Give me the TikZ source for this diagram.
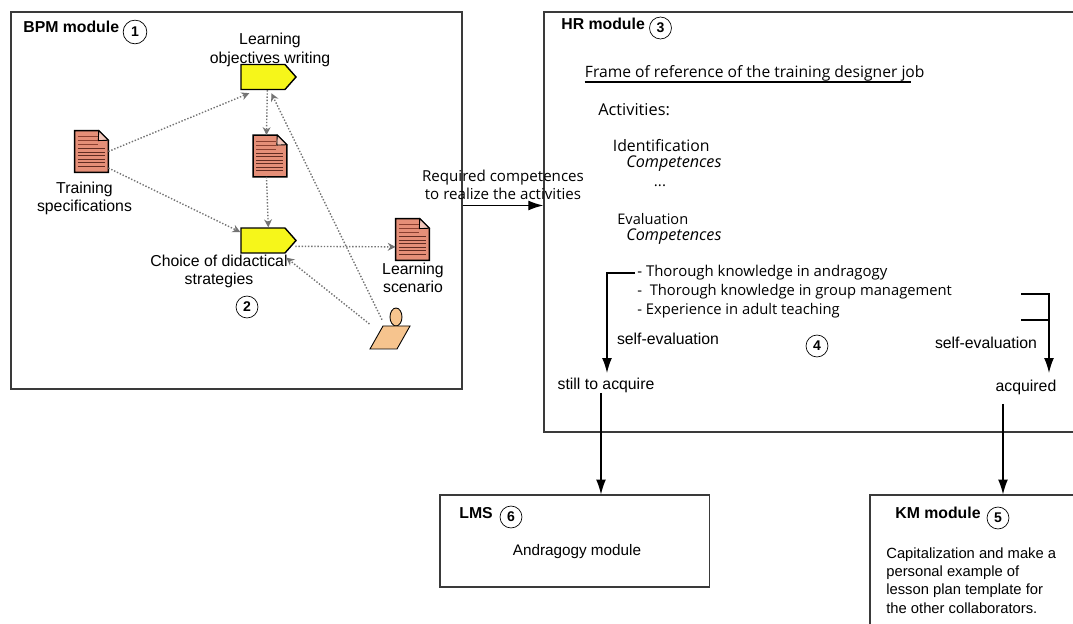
\documentclass[tikz,border=0pt]{standalone}
\usepackage{fontspec}
\setmainfont{Liberation Sans}
\newfontfamily\hrfont{Open Sans}
\usetikzlibrary{shapes.symbols,arrows.meta}
\definecolor{docfill}{HTML}{E58F78}
\definecolor{docline}{HTML}{8A3F30}
\definecolor{stepfill}{HTML}{F6F61A}
\definecolor{actorfill}{HTML}{F6C48E}
\definecolor{modline}{HTML}{3A3A3A}
\tikzset{
    module/.style={draw=modline,line width=.85pt,inner sep=0pt},
    label/.style={inner sep=0pt,align=center,font=\fontsize{9}{10.4}\selectfont},
    leftlabel/.style={label,anchor=west,align=left},
    title/.style={leftlabel,font=\fontsize{9}{10.4}\selectfont\bfseries},
    hrtext/.style={leftlabel,font=\hrfont\fontsize{#1}{10}\selectfont},
    hrtext/.default=8.6,
    hritalic/.style={hrtext,font=\hrfont\fontsize{9.2}{10}\selectfont\itshape},
    number/.style={draw,circle,inner sep=0pt,minimum size=12.5pt,font=\fontsize{8}{9}\selectfont\bfseries},
    stepbox/.style={draw,line width=.8pt,fill=stepfill,shape=signal,signal to=east,signal pointer angle=97,
        inner sep=0pt,minimum width=31.3pt,minimum height=14.2pt},
    docbox/.style={inner sep=0pt,minimum width=18.8pt,minimum height=23.4pt},
    flow/.style={->,>={Stealth[length=4.5pt,width=4.5pt]},densely dotted,line width=.8pt,draw=black!55},
    link/.style={->,>={Latex[length=8.5pt,width=5.6pt]},line width=.7pt},
}
\newcommand{\docnode}[2]{
    \node[docbox] (#1) at (#2) {};
    \draw[line width=.8pt,fill=docfill] (#1.north west) -- ([xshift=-5.5pt]#1.north east)
        -- ([yshift=-5.5pt]#1.north east) -- (#1.south east) -- (#1.south west) -- cycle;
    \draw[line width=.5pt,fill=docfill!50] ([xshift=-5.5pt]#1.north east) -- ([shift={(-10,10)}]#1.north east)
        -- ([yshift=-5.5pt]#1.north east) -- cycle;
    \foreach \k in {6,10,14} {
        \draw[docline,line width=.4pt] ([shift={(3,\k)}]#1.north west) -- ([shift={(23,\k)}]#1.north west);
    }
    \foreach \k in {18,21.5,25,28.5,32,35.5} {
        \draw[docline!70!black,line width=.6pt] ([shift={(3,\k)}]#1.north west) -- ([shift={(30,\k)}]#1.north west);
    }
}
\begin{document}
\begin{tikzpicture}[x=.02cm,y=-.02cm]
\useasboundingbox (0,0) rectangle (1073,624);
\clip (0,0) rectangle (1073,624);

\node[module,minimum width=9.02cm,minimum height=7.54cm] (bpm) at (236.5,200.5) {};
\node[module,minimum width=11.2cm,minimum height=8.4cm] (hr) at (824,222) {};
\node[module,minimum width=5.39cm,minimum height=1.84cm] (lms) at (574.75,541) {};
\node[module,minimum width=5cm,minimum height=3.4cm] (km) at (995,580) {};

\node[title] (bpmtitle) at (23,27) {BPM module};
\node[number,minimum size=13.5pt] (one) at (135,32) {1};
\node[number] (two) at (247,307) {2};
\node[title] (hrtitle) at (561,24) {HR module};
\node[number] (three) at (660.5,28) {3};
\node[number] (four) at (817,346) {4};
\node[title] (kmtitle) at (895,513) {KM module};
\node[number] (five) at (998,518) {5};
\node[title] (lmstitle) at (459,513) {LMS};
\node[number] (six) at (511,517) {6};

\node[stepbox] (objectives) at (263,77) {};
\node[stepbox] (choice) at (263,240.5) {};
\docnode{speclist}{91.5,151.5}
\docnode{objdoc}{270,156}
\docnode{scenario}{412.5,239.5}

\fill[actorfill,draw=black,line width=.5pt] (396,317) ellipse (6 and 9);
\node[inner sep=0pt,minimum width=23pt,minimum height=13pt] (actor) at (390,337.5) {};
\draw[fill=actorfill,line width=.5pt] (383,326) -- (410,326) -- (397,349) -- (370,349) -- cycle;

\node[label] (objlabel) at (270,50) {Learning\\objectives writing};
\node[label] (speclabel) at (84.5,198.5) {Training\\specifications};
\node[label] (choicelabel) at (219,271.5) {Choice of didactical\\strategies};
\node[label] (scenlabel) at (413,277.5) {Learning\\scenario};

\draw[flow] (speclist.east) -- ([shift={(9,3)}]objectives.south west);
\draw[flow] ([yshift=-9.4pt]speclist.east) -- ([yshift=4.8pt]choice.west);
\draw[flow] ([shift={(27,0)}]objectives.south west) -- ([xshift=-2pt]objdoc.north);
\draw[flow] ([xshift=-2pt]objdoc.south) -- ([shift={(28,0)}]choice.north west);
\draw[flow] ([shift={(55,19)}]choice.north west) -- ([yshift=-4.2pt]scenario.west);
\draw[flow] ([shift={(-8,-6)}]actor.north) -- ([shift={(31,3)}]objectives.south west);
\draw[flow] ([yshift=1pt]actor.north west) -- ([shift={(46,4)}]choice.south west);

\node[hrtext,align=center,anchor=center] (required) at (503,185) {Required competences\\to realize the activities};
\draw[link] (bpm.east |- 0,205.5) -- (hr.west |- 0,205.5);

\node[hrtext=8.9] (frame) at (584.6,73) {Frame of reference of the training designer job};
\draw[line width=.7pt] (frame.west |- 0,82) -- (911,82);
\node[hrtext=9.3] (activities) at (598,110) {Activities:};
\node[hrtext=9] (ident) at (612.5,146) {Identification};
\node[hritalic] (idcomp) at (626,164) {Competences};
\node[hrtext,anchor=center] (dots) at (660,186) {...};
\node[hrtext=8.3] (eval) at (617,219) {Evaluation};
\node[hritalic] (evcomp) at (626,237) {Competences};
\node[hrtext=8.5] (skilla) at (637,273) {- Thorough knowledge in andragogy};
\node[hrtext=8.4] (skillb) at (637,292) {-\ \ Thorough knowledge in group management};
\node[hrtext=8.4] (skillc) at (637,311) {- Experience in adult teaching};

\node[label] (selfa) at (668,339) {self-evaluation};
\node[label] (selfb) at (986,343) {self-evaluation};
\node[label] (still) at (606,385) {still to acquire};
\node[label] (acquired) at (1026,387) {acquired};

\coordinate (stillin) at (607,373);
\coordinate (acqin) at (1049,373);
\coordinate (brka) at (1021,294);
\coordinate (brkb) at (1021,320);
\draw[link] ([xshift=-1pt]skilla.west) -| (stillin);
\draw[link] (brka) -| (acqin);
\draw[line width=.7pt] (brkb) -- (brkb -| acqin);
\draw[link] (601,393) -- (601,494.5);
\draw[link] (1003,404) -- (1003,494.5);

\node[label,font=\fontsize{8.7}{10}\selectfont] (andra) at (577,552) {Andragogy module};
\node[leftlabel,font=\fontsize{8.4}{10.45}\selectfont,anchor=north west] (capital) at (886,547) {Capitalization and make a\\personal example of\\lesson plan template for\\the other collaborators.};

\end{tikzpicture}
\end{document}
